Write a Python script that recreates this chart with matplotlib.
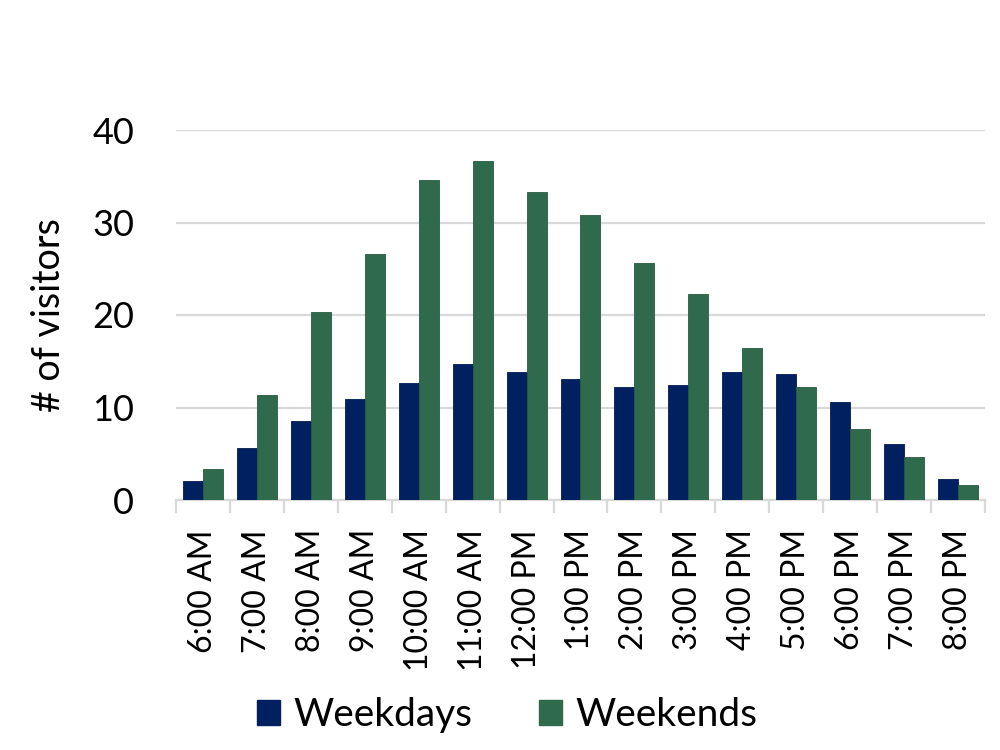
import matplotlib
matplotlib.use("Agg")
import matplotlib.pyplot as plt
import numpy as np
from matplotlib.patches import Patch

categories = ["6:00 AM", "7:00 AM", "8:00 AM", "9:00 AM", "10:00 AM", "11:00 AM",
              "12:00 PM", "1:00 PM", "2:00 PM", "3:00 PM", "4:00 PM", "5:00 PM",
              "6:00 PM", "7:00 PM", "8:00 PM"]
weekdays = [2.1, 5.6, 8.5, 10.9, 12.7, 14.75, 13.8, 13.05, 12.2, 12.4, 13.8, 13.6, 10.6, 6.1, 2.3]
weekends = [3.3, 11.3, 20.3, 26.6, 34.6, 36.6, 33.3, 30.8, 25.6, 22.3, 16.4, 12.2, 7.7, 4.7, 1.6]
yticks = [0, 10, 20, 30, 40]

plt.rcParams['font.family'] = ['Lato', 'DejaVu Sans']

C_WD = "#002060"
C_WE = "#2E6A4B"
GRID = "#D9D9D9"

fig = plt.figure(figsize=(10, 7.5), dpi=100)
ax = fig.add_axes([0.176, 1 - 500 / 750, 0.985 - 0.176, (500 - 130) / 750])

x = np.arange(len(categories))
w = 0.37
ax.bar(x - w / 2, weekdays, width=w, color=C_WD, edgecolor="#001a4f", linewidth=0.6, zorder=3)
ax.bar(x + w / 2, weekends, width=w, color=C_WE, edgecolor="#265c40", linewidth=0.6, zorder=3)

ax.set_xlim(-0.5, len(categories) - 0.5)
ax.set_ylim(0, 40)
ax.set_yticks(yticks)
ax.set_yticklabels([str(v) for v in yticks], fontsize=26)
ax.yaxis.grid(True, color=GRID, linewidth=1.6, zorder=0)
ax.set_axisbelow(True)
ax.tick_params(axis='y', length=0, pad=30)

ax.set_xticks(x)
ax.set_xticklabels(categories, rotation=90, fontsize=23)
ax.tick_params(axis='x', which='major', length=0, pad=21)
ax.set_xticks(np.arange(-0.5, len(categories)), minor=True)
ax.tick_params(axis='x', which='minor', length=9, width=1.6, color=GRID)

for s in ['top', 'right', 'left']:
    ax.spines[s].set_visible(False)
ax.spines['bottom'].set_color(GRID)
ax.spines['bottom'].set_linewidth(1.6)

ax.set_ylabel("# of visitors", fontsize=27, labelpad=18)

handles = [Patch(facecolor=C_WD, edgecolor=C_WD, label="Weekdays"),
           Patch(facecolor=C_WE, edgecolor=C_WE, label="Weekends")]
fig.legend(handles=handles, loc='center', bbox_to_anchor=(0.507, 1 - 715 / 750), ncol=2,
           frameon=False, fontsize=28, handlelength=0.6, handleheight=0.6,
           handletextpad=0.35, columnspacing=1.7)

fig.savefig("out.png", dpi=100)
